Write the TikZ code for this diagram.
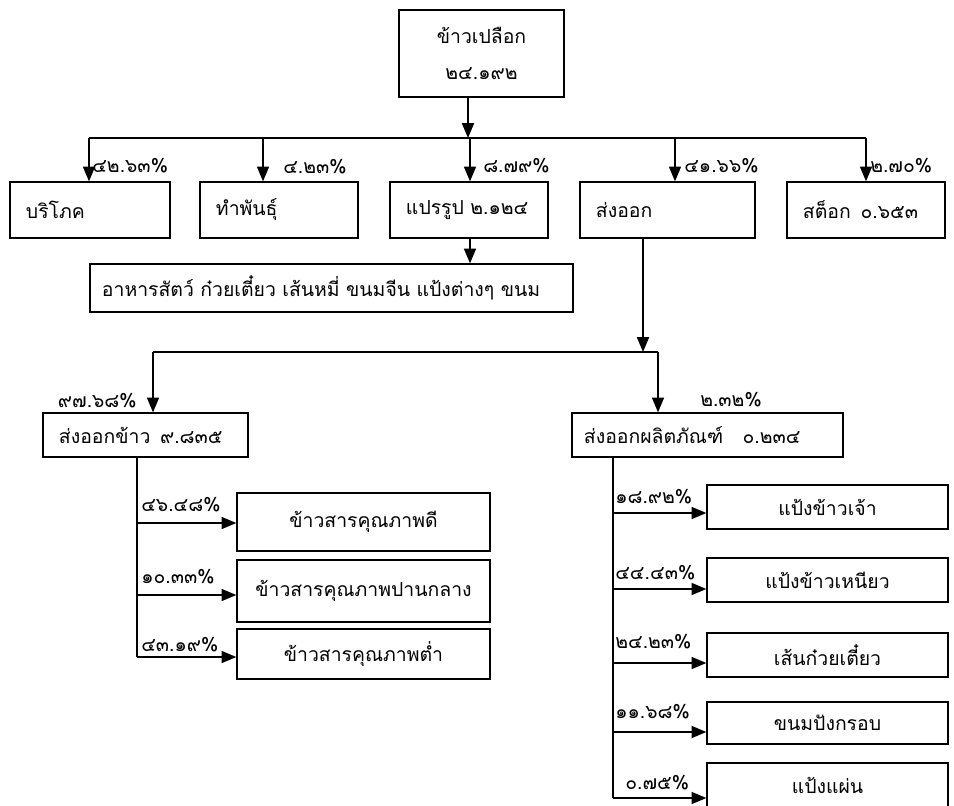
\documentclass[tikz,border=0pt]{standalone}
\usepackage{fontspec}
\setmainfont{Loma}[Script=Thai]
\usetikzlibrary{arrows.meta}
\newcommand{\thaisize}{\fontsize{13.8pt}{16pt}\selectfont}
\tikzset{
  basebox/.style={rectangle, draw=black, line width=0.9pt, align=center, font=\thaisize},
  mainbox/.style={basebox, minimum width=4.125cm, minimum height=2.175cm},
  lbox/.style={basebox, align=left, inner xsep=0.4cm, text width=#1},
  cbox/.style={basebox, minimum width=#1},
  arrow/.style={-{Triangle[length=10.5pt,width=8.5pt]}, line width=1.2pt},
  line/.style={line width=1pt},
  pct/.style={font=\thaisize, inner sep=0pt, anchor=west}
}
\begin{document}
\begin{tikzpicture}[x=0.025cm, y=-0.025cm]
\useasboundingbox (0,0) rectangle (954,805);

\node[mainbox] (paddy) at (481.5,53.5) {ข้าวเปลือก\\[10pt]๒๔.๑๙๒};

\node[lbox=3.2cm, minimum height=1.4cm] (bb) at (90,210) {บริโภค};
\node[lbox=3.15cm, minimum height=1.4cm] (tp) at (279,210) {ทำพันธุ์};
\node[lbox=3.15cm, minimum height=1.4cm] (pr) at (469,210) {แปรรูป ๒.๑๒๔};
\node[lbox=3.575cm, minimum height=1.4cm] (ex) at (667.5,210) {ส่งออก};
\node[lbox=3.15cm, minimum height=1.4cm] (st) at (866,210) {สต็อก\enspace ๐.๖๕๓};

\coordinate (hub) at (468,138);
\draw[arrow] (paddy.south -| hub) -- (hub);
\foreach \x/\n in {89/bb,263/tp,470/pr,675/ex,866/st}{
  \coordinate (d\n) at (\x,138);
  \draw[arrow] (d\n) -- (d\n |- \n.north);
}
\draw[line] (dbb) -- (dst);

\node[pct] (pbb) at (92,166) {๔๒.๖๓\%};
\node[pct] (ptp) at (283,167) {๔.๒๓\%};
\node[pct] (ppr) at (483,166) {๘.๗๙\%};
\node[pct] (pex) at (684,166) {๔๑.๖๖\%};
\node[pct] (pst) at (870,166) {๒.๗๐\%};

\node[lbox=11.475cm, minimum height=1.2cm, inner xsep=0.3cm] (fd) at (331.5,288) {อาหารสัตว์ ก๋วยเตี๋ยว เส้นหมี่ ขนมจีน แป้งต่างๆ ขนม};
\draw[arrow] (pr.south -| dpr) -- (dpr |- fd.north);

\node[lbox=4.325cm, minimum height=1.1cm] (rx) at (145.5,435) {ส่งออกข้าว\enspace ๙.๘๓๕};
\node[lbox=6.175cm, minimum height=1.1cm, inner xsep=0.3cm] (px) at (707.5,435) {ส่งออกผลิตภัณฑ์\quad ๐.๒๓๔};

\coordinate (split) at (643,352);
\coordinate (sL) at (153,352);
\coordinate (sR) at (658,352);
\draw[arrow] (ex.south -| split) -- (split);
\draw[line] (sL) -- (sR);
\draw[arrow] (sL) -- (sL |- rx.north);
\draw[arrow] (sR) -- (sR |- px.north);
\node[pct, anchor=east] (prx) at (137,401) {๙๗.๖๘\%};
\node[pct] (ppx) at (700,400) {๒.๓๒\%};

\node[cbox=6.325cm, minimum height=1.45cm] (rg1) at (363.5,522) {ข้าวสารคุณภาพดี};
\node[cbox=6.325cm, minimum height=1.55cm] (rg2) at (363.5,591) {ข้าวสารคุณภาพปานกลาง};
\node[cbox=6.325cm, minimum height=1.25cm] (rg3) at (363.5,654) {ข้าวสารคุณภาพต่ำ};
\coordinate (rt) at (137,657);
\draw[line] (rx.south -| rt) -- (rt);
\foreach \n/\y in {rg1/523,rg2/595,rg3/657}{
  \coordinate (a\n) at (137,\y);
  \draw[arrow] (a\n) -- (a\n -| \n.west);
}
\node[pct] (prg1) at (141,505) {๔๖.๔๘\%};
\node[pct] (prg2) at (141,577) {๑๐.๓๓\%};
\node[pct] (prg3) at (141,645) {๔๓.๑๙\%};

\node[cbox=6.025cm, minimum height=1.1cm] (pp1) at (827.5,507) {แป้งข้าวเจ้า};
\node[cbox=6.025cm, minimum height=1.1cm] (pp2) at (827.5,580) {แป้งข้าวเหนียว};
\node[cbox=6.025cm, minimum height=1.1cm] (pp3) at (827.5,655) {เส้นก๋วยเตี๋ยว};
\node[cbox=6.025cm, minimum height=1.05cm] (pp4) at (827.5,723) {ขนมปังกรอบ};
\node[cbox=6.025cm, minimum height=1.1cm] (pp5) at (827.5,785) {แป้งแผ่น};
\coordinate (pt) at (613,798);
\draw[line] (px.south -| pt) -- (pt);
\foreach \n/\y in {pp1/513,pp2/589,pp3/663,pp4/732,pp5/798}{
  \coordinate (a\n) at (613,\y);
  \draw[arrow] (a\n) -- (a\n -| \n.west);
}
\node[pct] (ppp1) at (615,497) {๑๘.๙๒\%};
\node[pct] (ppp2) at (615,573) {๔๔.๔๓\%};
\node[pct] (ppp3) at (615,642) {๒๔.๒๓\%};
\node[pct] (ppp4) at (615,712) {๑๑.๖๘\%};
\node[pct] (ppp5) at (625,783) {๐.๗๕\%};
\end{tikzpicture}
\end{document}
